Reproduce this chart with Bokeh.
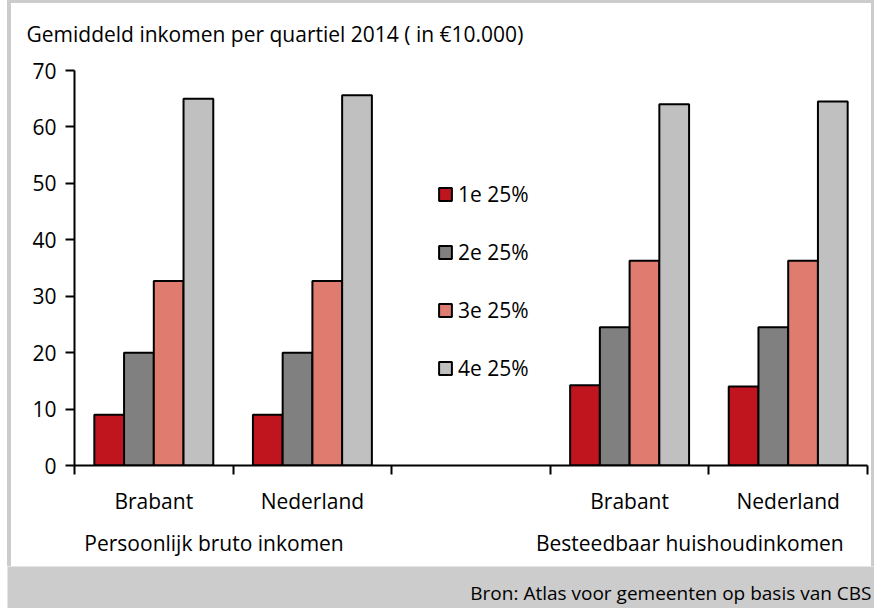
from bokeh.plotting import figure
from bokeh.models import (ColumnDataSource, FixedTicker, LinearAxis, Range1d,
                          Legend, LegendItem, Div)
from bokeh.layouts import column, row
from bokeh.embed import file_html
from bokeh.resources import INLINE
from bokeh.core.properties import value

# ---------------- data ----------------
title_text = "Gemiddeld inkomen per quartiel 2014 ( in €10.000)"
source_text = "Bron: Atlas voor gemeenten op basis van CBS"
group_names = ["Persoonlijk bruto inkomen", "Besteedbaar huishoudinkomen"]
regions = ["Brabant", "Nederland", "Brabant", "Nederland"]
region_group = [0, 0, 1, 1]
series_names = ["1e 25%", "2e 25%", "3e 25%", "4e 25%"]
q1 = [9.0, 9.0, 14.2, 14.0]
q2 = [20.0, 20.0, 24.5, 24.5]
q3 = [32.7, 32.7, 36.3, 36.3]
q4 = [65.0, 65.6, 64.0, 64.5]
y_ticks = [0, 10, 20, 30, 40, 50, 60, 70]

series_values = [q1, q2, q3, q4]
colors = ["#c0141e", "#808080", "#e07b70", "#c0c0c0"]
FONT = "Open Sans"
FS = "21px"
GRAY = "#cccccc"

# slot positions: one empty slot between the two groups
slots = [i + g for i, g in enumerate(region_group)]
n_slots = max(slots) + 1
bar_w = 0.1875
offsets = [(-1.5 + k) * bar_w for k in range(4)]

# ---------------- title strip ----------------
TW, TH = 860, 50
tf = figure(width=TW, height=TH, output_backend="svg", toolbar_location=None,
            x_range=Range1d(0, TW), y_range=Range1d(0, TH), min_border=0,
            x_axis_location=None, y_axis_location=None, frame_align=False)
tf.background_fill_color = "white"
tf.border_fill_color = "white"
tf.outline_line_color = None
tf.grid.visible = False
tf.text(x=[15], y=[20], text=[title_text], text_align="left",
        text_baseline="middle", text_font=value(FONT), text_font_size=FS,
        text_color="black")

# ---------------- main chart ----------------
p = figure(width=860, height=513, output_backend="svg", toolbar_location=None,
           x_range=Range1d(0, n_slots), y_range=Range1d(0, 70),
           min_border_left=63, min_border_right=4, min_border_top=17,
           min_border_bottom=101, x_axis_location=None, y_axis_location=None,
           frame_align=False)
p.background_fill_color = "white"
p.border_fill_color = "white"
p.outline_line_color = None
p.grid.visible = False

renderers = []
for k, vals in enumerate(series_values):
    src = ColumnDataSource(dict(x=[s + 0.5 + offsets[k] for s in slots], top=vals))
    r = p.vbar(x="x", top="top", width=bar_w, bottom=0, source=src,
               fill_color=colors[k], line_color="black", line_width=2)
    renderers.append(r)

# left axis
yax = LinearAxis(ticker=FixedTicker(ticks=y_ticks))
yax.axis_line_width = 2
yax.major_tick_line_width = 2
yax.major_tick_in = 0
yax.major_tick_out = 9
yax.minor_tick_line_color = None
yax.major_label_standoff = 9
yax.major_label_text_font = FONT
yax.major_label_text_font_size = FS
yax.major_label_text_color = "black"
p.add_layout(yax, "left")

# bottom axis with category labels and boundary ticks
centers = [s + 0.5 for s in slots]
xax = LinearAxis(ticker=FixedTicker(ticks=centers,
                                    minor_ticks=list(range(n_slots + 1))))
xax.major_label_overrides = {c: r for c, r in zip(centers, regions)}
xax.axis_line_width = 2
xax.major_tick_line_color = None
xax.major_tick_in = 0
xax.major_tick_out = 0
xax.minor_tick_line_width = 2
xax.minor_tick_in = 0
xax.minor_tick_out = 9
xax.major_label_standoff = 12
xax.major_label_text_font = FONT
xax.major_label_text_font_size = FS
xax.major_label_text_color = "black"
p.add_layout(xax, "below")

# group labels axis
group_pos = []
for g in range(len(group_names)):
    ss = [s for s, rg in zip(slots, region_group) if rg == g]
    group_pos.append((min(ss) + max(ss) + 1) / 2 - 0.12)
gax = LinearAxis(ticker=FixedTicker(ticks=group_pos, minor_ticks=[]))
gax.major_label_overrides = {c: t for c, t in zip(group_pos, group_names)}
gax.axis_line_color = None
gax.major_tick_line_color = None
gax.major_tick_out = 0
gax.major_tick_in = 0
gax.minor_tick_line_color = None
gax.major_label_standoff = 11
gax.major_label_text_font = FONT
gax.major_label_text_font_size = FS
gax.major_label_text_color = "black"
p.add_layout(gax, "below")

# legend
items = [LegendItem(label=n, renderers=[r]) for n, r in zip(series_names, renderers)]
leg = Legend(items=items, location=(363, 83), orientation="vertical")
leg.border_line_color = None
leg.background_fill_alpha = 0
leg.padding = 0
leg.margin = 0
leg.spacing = 30
leg.glyph_width = 16
leg.glyph_height = 16
leg.label_standoff = 5
leg.label_text_font = FONT
leg.label_text_font_size = FS
leg.label_text_color = "black"
p.add_layout(leg, "center")

# ---------------- footer ----------------
f = figure(width=867, height=42, output_backend="svg", toolbar_location=None,
           x_range=Range1d(0, 1), y_range=Range1d(0, 1),
           min_border=0, x_axis_location=None, y_axis_location=None,
           frame_align=False)
f.background_fill_color = GRAY
f.border_fill_color = GRAY
f.outline_line_color = None
f.grid.visible = False
f.text(x=[0.9965], y=[0.36], text=[source_text], text_align="right",
       text_baseline="middle", text_font=value(FONT), text_font_size="19px",
       text_color="black")


def strip(w, h, color):
    return Div(text="", width=w, height=h, margin=0,
               styles={"background-color": color})


inner = column(tf, p, spacing=0)
frame_box = column(strip(867, 3, GRAY),
                   row(strip(4, 563, GRAY), inner, strip(3, 563, GRAY), spacing=0),
                   f, spacing=0)
layout = row(strip(7, 608, "white"), frame_box, spacing=0)
open("out.html", "w").write(file_html(layout, INLINE))
